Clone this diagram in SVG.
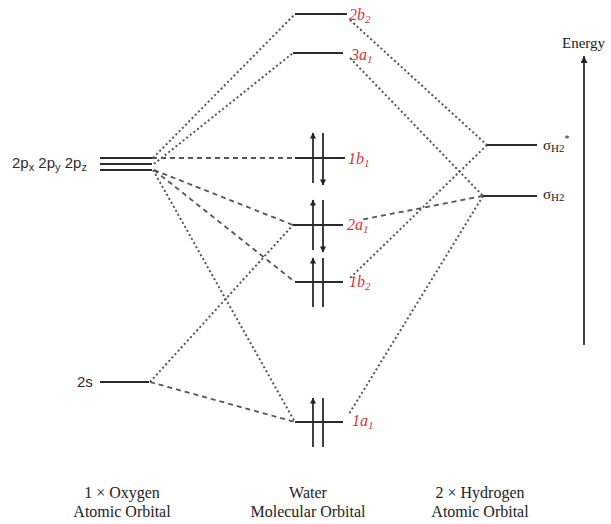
<svg xmlns="http://www.w3.org/2000/svg" width="611" height="524" viewBox="0 0 611 524">
<style>
.lvl{stroke:#2b2b2b;stroke-width:2;fill:none}
.dot{stroke:#555;stroke-width:2;fill:none;stroke-dasharray:2 2.6}
.dash{stroke:#555;stroke-width:1.8;fill:none;stroke-dasharray:5 4}
.el{stroke:#2b2b2b;stroke-width:1.8;fill:none}
.mo{font-family:"Liberation Serif",serif;font-style:italic;font-size:16px;fill:#d6333b}
.ao{font-family:"Liberation Sans",sans-serif;font-size:15px;fill:#2b2b2b}
.cap{font-family:"Liberation Serif",serif;font-size:16px;fill:#222;text-anchor:middle}
.h{font-family:"Liberation Serif",serif;font-size:15px;fill:#222}
</style>
<defs>
<marker id="eh" viewBox="0 0 10 10" refX="9" refY="5" markerWidth="9" markerHeight="6" orient="auto" markerUnits="userSpaceOnUse">
<path d="M0,0 L10,5 L0,10 Z" fill="#222"/>
</marker>
<marker id="ah" viewBox="0 0 10 10" refX="10" refY="5" markerWidth="10" markerHeight="7" orient="auto" markerUnits="userSpaceOnUse">
<path d="M0,0 L10,5 L0,10 Z" fill="#222"/>
</marker>
</defs>
<rect width="611" height="524" fill="#fff"/>

<g id="connectors">
<path class="dot" d="M153,158 L295,14"/>
<path class="dot" d="M154,164 L293,53"/>
<path class="dash" d="M152,158 L295,158"/>
<path class="dash" d="M154,170 L293,225"/>
<path class="dash" d="M154,170 L295,282"/>
<path class="dot" d="M153,170 L295,422"/>
<path class="dot" d="M150,382 L293,225"/>
<path class="dash" d="M150,382 L295,422"/>
<path class="dot" d="M350,20 L487,145"/>
<path class="dot" d="M350,58 L483,196"/>
<path class="dot" d="M487,145 L350,278"/>
<path class="dash" d="M483,196 L360,220"/>
<path class="dot" d="M483,196 L349,414"/>
</g>

<g id="O2p">
<line class="lvl" x1="100" y1="158" x2="152" y2="158"/>
<line class="lvl" x1="100" y1="164" x2="152" y2="164"/>
<line class="lvl" x1="100" y1="170" x2="152" y2="170"/>
<text class="ao" x="12" y="168">2p<tspan font-size="11" dy="3">x</tspan><tspan dy="-3"> 2p</tspan><tspan font-size="11" dy="3">y</tspan><tspan dy="-3"> 2p</tspan><tspan font-size="11" dy="3">z</tspan></text>
</g>

<g id="O2s">
<line class="lvl" x1="100" y1="382" x2="149" y2="382"/>
<text class="ao" x="77" y="387">2s</text>
</g>

<g id="mo2b2">
<line class="lvl" x1="295" y1="14" x2="347" y2="14"/>
<text class="mo" x="349" y="20">2b<tspan font-size="11" dy="3">2</tspan></text>
</g>
<g id="mo3a1">
<line class="lvl" x1="293" y1="53" x2="343" y2="53"/>
<text class="mo" x="351" y="60">3a<tspan font-size="11" dy="3">1</tspan></text>
</g>
<g id="mo1b1">
<line class="lvl" x1="295" y1="158" x2="345" y2="158"/>
<line class="el" x1="313" y1="183" x2="313" y2="133" marker-end="url(#eh)"/>
<line class="el" x1="323" y1="133" x2="323" y2="185" marker-end="url(#eh)"/>
<text class="mo" x="348" y="164">1b<tspan font-size="11" dy="3">1</tspan></text>
</g>
<g id="mo2a1">
<line class="lvl" x1="293" y1="225" x2="343" y2="225"/>
<line class="el" x1="313" y1="250" x2="313" y2="200" marker-end="url(#eh)"/>
<line class="el" x1="323" y1="200" x2="323" y2="252" marker-end="url(#eh)"/>
<text class="mo" x="347" y="230">2a<tspan font-size="11" dy="3">1</tspan></text>
</g>
<g id="mo1b2">
<line class="lvl" x1="295" y1="282" x2="343" y2="282"/>
<line class="el" x1="313" y1="307" x2="313" y2="258" marker-end="url(#eh)"/>
<line class="el" x1="323" y1="258" x2="323" y2="307"/>
<text class="mo" x="349" y="287">1b<tspan font-size="11" dy="3">2</tspan></text>
</g>
<g id="mo1a1">
<line class="lvl" x1="295" y1="422" x2="343" y2="422"/>
<line class="el" x1="313" y1="447" x2="313" y2="398" marker-end="url(#eh)"/>
<line class="el" x1="323" y1="398" x2="323" y2="447"/>
<text class="mo" x="352" y="426">1a<tspan font-size="11" dy="3">1</tspan></text>
</g>

<g id="sigmaStar">
<line class="lvl" x1="487" y1="145" x2="537" y2="145"/>
<text class="h" x="543" y="150">σ<tspan font-size="11" dy="2">H2</tspan><tspan font-size="10" dy="-10">*</tspan></text>
</g>
<g id="sigma">
<line class="lvl" x1="483" y1="196" x2="537" y2="196"/>
<text class="h" x="543" y="199">σ<tspan font-size="11" dy="2">H2</tspan></text>
</g>

<g id="energy">
<line class="el" x1="584" y1="345" x2="584" y2="56" marker-end="url(#ah)"/>
<text class="h" x="562" y="48">Energy</text>
</g>

<g id="labels">
<text class="cap" x="122" y="498">1 × Oxygen</text>
<text class="cap" x="122" y="517">Atomic Orbital</text>
<text class="cap" x="308" y="498">Water</text>
<text class="cap" x="308" y="517">Molecular Orbital</text>
<text class="cap" x="480" y="498">2 × Hydrogen</text>
<text class="cap" x="480" y="517">Atomic Orbital</text>
</g>
</svg>
